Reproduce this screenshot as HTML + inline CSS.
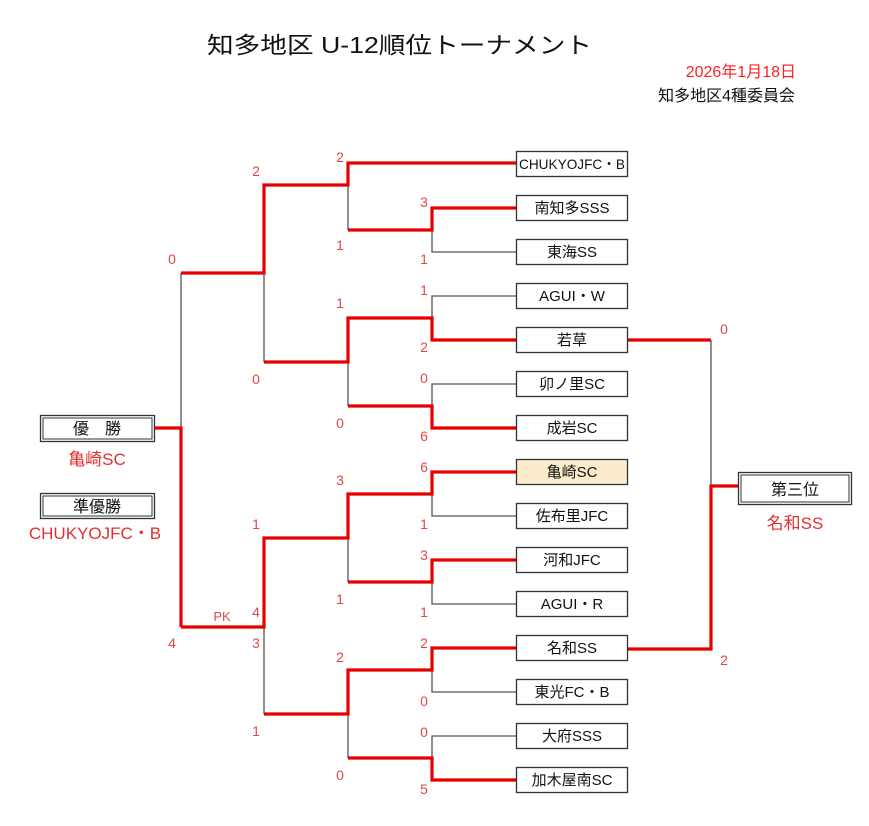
<!DOCTYPE html>
<html><head><meta charset="utf-8">
<style>
html,body{margin:0;padding:0;background:#fff;}
svg{display:block;}
text{font-family:"Liberation Sans","Noto Sans CJK JP",sans-serif;}
</style></head>
<body>
<svg width="869" height="826" viewBox="0 0 869 826" xmlns="http://www.w3.org/2000/svg">
<text x="207" y="53" font-size="23" fill="#111" textLength="385" lengthAdjust="spacingAndGlyphs">知多地区 U-12順位トーナメント</text>
<text x="796" y="77" font-size="16" fill="#ff2020" text-anchor="end">2026年1月18日</text>
<text x="795" y="101" font-size="16" fill="#111" text-anchor="end">知多地区4種委員会</text>

<g stroke="#555" stroke-width="1.3" fill="none">
<path d="M516 252H432V230"/>
<path d="M516 296H432V318"/>
<path d="M516 384H432V406"/>
<path d="M516 516H432V494"/>
<path d="M516 604H432V582"/>
<path d="M516 692H432V670"/>
<path d="M516 736H432V758"/>
<path d="M348 185V230"/>
<path d="M348 362V406"/>
<path d="M348 538V582"/>
<path d="M348 714V758"/>
<path d="M264 273V362"/>
<path d="M264 627V714"/>
<path d="M181 273V428"/>
<path d="M711 340V486"/>
</g>

<g stroke="#e60000" stroke-width="3.2" fill="none" stroke-linejoin="miter">
<path d="M516 163H348V185H264V273H181"/>
<path d="M516 208H432V230H348"/>
<path d="M516 340H432V318H348V362H264"/>
<path d="M516 428H432V406H348"/>
<path d="M516 472H432V494H348V538H264V627H181"/>
<path d="M516 560H432V582H348"/>
<path d="M516 648H432V670H348V714H264"/>
<path d="M516 780H432V758H348"/>
<path d="M155 428H181V627"/>
<path d="M628 340H711"/>
<path d="M628 649H711V486H738"/>
</g>

<g font-size="15" fill="#111" text-anchor="middle">
<rect x="516.5" y="151.5" width="111" height="25" fill="#fff" stroke="#333" stroke-width="1.3"/>
<text x="572" y="169" font-size="14" textLength="106" lengthAdjust="spacingAndGlyphs">CHUKYOJFC・B</text>
<rect x="516.5" y="195.5" width="111" height="25" fill="#fff" stroke="#333" stroke-width="1.3"/><text x="572" y="213">南知多SSS</text>
<rect x="516.5" y="239.5" width="111" height="25" fill="#fff" stroke="#333" stroke-width="1.3"/><text x="572" y="257">東海SS</text>
<rect x="516.5" y="283.5" width="111" height="25" fill="#fff" stroke="#333" stroke-width="1.3"/><text x="572" y="301">AGUI・W</text>
<rect x="516.5" y="327.5" width="111" height="25" fill="#fff" stroke="#333" stroke-width="1.3"/><text x="572" y="345">若草</text>
<rect x="516.5" y="371.5" width="111" height="25" fill="#fff" stroke="#333" stroke-width="1.3"/><text x="572" y="389">卯ノ里SC</text>
<rect x="516.5" y="415.5" width="111" height="25" fill="#fff" stroke="#333" stroke-width="1.3"/><text x="572" y="433">成岩SC</text>
<rect x="516.5" y="459.5" width="111" height="25" fill="#fdeccb" stroke="#333" stroke-width="1.3"/><text x="572" y="477">亀崎SC</text>
<rect x="516.5" y="503.5" width="111" height="25" fill="#fff" stroke="#333" stroke-width="1.3"/><text x="572" y="521">佐布里JFC</text>
<rect x="516.5" y="547.5" width="111" height="25" fill="#fff" stroke="#333" stroke-width="1.3"/><text x="572" y="565">河和JFC</text>
<rect x="516.5" y="591.5" width="111" height="25" fill="#fff" stroke="#333" stroke-width="1.3"/><text x="572" y="609">AGUI・R</text>
<rect x="516.5" y="635.5" width="111" height="25" fill="#fff" stroke="#333" stroke-width="1.3"/><text x="572" y="653">名和SS</text>
<rect x="516.5" y="679.5" width="111" height="25" fill="#fff" stroke="#333" stroke-width="1.3"/><text x="572" y="697">東光FC・B</text>
<rect x="516.5" y="723.5" width="111" height="25" fill="#fff" stroke="#333" stroke-width="1.3"/><text x="572" y="741">大府SSS</text>
<rect x="516.5" y="767.5" width="111" height="25" fill="#fff" stroke="#333" stroke-width="1.3"/><text x="572" y="785">加木屋南SC</text>
</g>

<g fill="none" stroke="#333">
<rect x="40.5" y="415.5" width="114" height="26" stroke-width="1.3"/>
<rect x="43" y="418" width="109" height="21" stroke-width="1"/>
<rect x="40.5" y="493.5" width="114" height="25" stroke-width="1.3"/>
<rect x="43" y="496" width="109" height="20" stroke-width="1"/>
<rect x="738.5" y="472.5" width="113" height="32" stroke-width="1.3"/>
<rect x="741" y="475" width="108" height="27" stroke-width="1"/>
</g>
<g text-anchor="middle">
<text x="97" y="434" font-size="16" fill="#111">優　勝</text>
<text x="97" y="512" font-size="16" fill="#111">準優勝</text>
<text x="795" y="495" font-size="16" fill="#111">第三位</text>
<text x="97" y="465" font-size="17" fill="#e03030">亀崎SC</text>
<text x="95" y="539" font-size="17" fill="#e03030">CHUKYOJFC・B</text>
<text x="795" y="529" font-size="17" fill="#e03030">名和SS</text>
</g>

<g font-size="14" fill="#e04848" text-anchor="middle">
<text x="340" y="162">2</text>
<text x="256" y="176">2</text>
<text x="172" y="264">0</text>
<text x="424" y="207">3</text>
<text x="340" y="250">1</text>
<text x="424" y="264">1</text>
<text x="424" y="295">1</text>
<text x="340" y="308">1</text>
<text x="424" y="352">2</text>
<text x="256" y="384">0</text>
<text x="424" y="383">0</text>
<text x="340" y="428">0</text>
<text x="424" y="441">6</text>
<text x="424" y="472">6</text>
<text x="340" y="485">3</text>
<text x="256" y="529">1</text>
<text x="424" y="529">1</text>
<text x="424" y="560">3</text>
<text x="340" y="604">1</text>
<text x="222" y="621" font-size="13">PK</text>
<text x="256" y="617">4</text>
<text x="424" y="617">1</text>
<text x="172" y="648">4</text>
<text x="256" y="648">3</text>
<text x="424" y="648">2</text>
<text x="340" y="662">2</text>
<text x="424" y="706">0</text>
<text x="424" y="737">0</text>
<text x="256" y="736">1</text>
<text x="340" y="780">0</text>
<text x="424" y="794">5</text>
<text x="724" y="334">0</text>
<text x="724" y="665">2</text>
</g>
</svg>
</body></html>
